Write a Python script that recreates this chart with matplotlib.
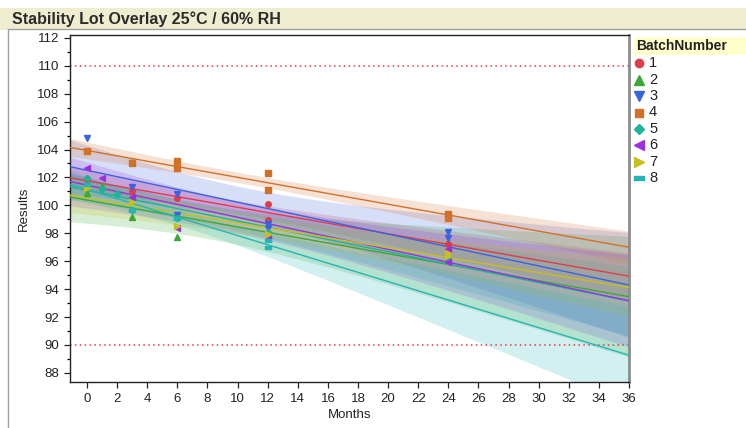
"""Stability lot overlay at 25C / 60% RH: per-batch linear fits with 95% confidence bands."""

import matplotlib
matplotlib.use("Agg")
import matplotlib.pyplot as plt
import numpy as np
from matplotlib.lines import Line2D
from matplotlib.patches import Rectangle

plt.rcParams["font.family"] = ["Liberation Sans", "DejaVu Sans"]

# ---- data (months, result) ----
batch_ids = ["1", "2", "3", "4", "5", "6", "7", "8"]

b1_months = [0, 3, 6, 12, 12, 24]
b1_values = [101.9, 101.06, 100.55, 100.08, 98.95, 97.21]

b2_months = [0, 1, 3, 6, 12, 24]
b2_values = [100.91, 101.39, 99.15, 97.71, 98.1, 96.16]

b3_months = [0, 3, 3, 6, 6, 12, 12, 24, 24]
b3_values = [104.8, 103.0, 101.3, 100.8, 99.3, 98.7, 98.4, 98.07, 97.68]

b4_months = [0, 3, 6, 6, 12, 12, 24, 24]
b4_values = [103.9, 103.0, 103.2, 102.7, 102.3, 101.1, 99.4, 99.1]

b5_months = [0, 1, 2, 3, 6, 12, 24]
b5_values = [101.99, 101.2, 100.8, 99.67, 99.07, 98.12, 96.2]

b6_months = [0, 1, 3, 6, 12, 24, 24]
b6_values = [102.66, 101.99, 100.58, 98.4, 97.6, 96.85, 95.96]

b7_months = [0, 3, 6, 12, 24, 24]
b7_values = [101.27, 100.22, 98.52, 97.95, 96.57, 96.37]

b8_months = [0, 3, 6, 12, 12]
b8_values = [101.5, 99.7, 99.1, 97.5, 97.0]

spec_limits = [90, 110]

months_data = [b1_months, b2_months, b3_months, b4_months,
               b5_months, b6_months, b7_months, b8_months]
values_data = [b1_values, b2_values, b3_values, b4_values,
               b5_values, b6_values, b7_values, b8_values]

COLORS = ["#DE3C4B", "#3AAA35", "#3B63E0", "#D27028",
          "#1FB39A", "#9B30E0", "#C8BF1E", "#25B5B5"]
RECT = [(-1.0, -0.45), (1.0, -0.45), (1.0, 0.45), (-1.0, 0.45), (-1.0, -0.45)]
MARKERS = ["o", "^", "v", "s", "D", "<", ">", RECT]
MSIZES = [4.0, 4.4, 4.4, 3.8, 3.3, 4.4, 4.4, 4.8]

# two-sided 95% t quantiles
T975 = {1: 12.706, 2: 4.303, 3: 3.182, 4: 2.776, 5: 2.571, 6: 2.447,
        7: 2.365, 8: 2.306, 9: 2.262, 10: 2.228}

XMIN, XMAX = -1.13, 36.0
YMIN, YMAX = 87.35, 112.2


def fit_band(x, y, grid):
    x = np.asarray(x, float)
    y = np.asarray(y, float)
    n = len(x)
    xm = x.mean()
    sxx = ((x - xm) ** 2).sum()
    slope = ((x - xm) * (y - y.mean())).sum() / sxx
    icpt = y.mean() - slope * xm
    resid = y - (icpt + slope * x)
    s = np.sqrt((resid ** 2).sum() / (n - 2))
    pred = icpt + slope * grid
    half = T975[n - 2] * s * np.sqrt(1 / n + (grid - xm) ** 2 / sxx)
    return pred, pred - half, pred + half


W, H = 746, 428
fig = plt.figure(figsize=(W / 100, H / 100), dpi=100)

# title bar and content frame
fig.patches.append(Rectangle((0, 1 - 29.5 / H), 1, 21.5 / H, transform=fig.transFigure,
                             facecolor="#EEEDCF", edgecolor="none", zorder=0))
fig.patches.append(Rectangle((7.5 / W, -0.01), 1.0, 1 - 29.5 / H + 0.01, transform=fig.transFigure,
                             facecolor="none", edgecolor="#A0A0A0", lw=1.0, zorder=0))
fig.text(12 / W, 1 - 19 / H, "Stability Lot Overlay 25\u00b0C / 60% RH",
         fontsize=11.5, fontweight="bold", color="#2B2B2B", va="center", ha="left")

ax = fig.add_axes([70 / W, 1 - 382 / H, 559 / W, 347 / H])

grid = np.linspace(XMIN, XMAX, 300)
for i in range(len(batch_ids)):
    pred, lo, hi = fit_band(months_data[i], values_data[i], grid)
    ax.fill_between(grid, lo, hi, color=COLORS[i], alpha=0.2, lw=0, zorder=1)
for i in range(len(batch_ids)):
    pred, lo, hi = fit_band(months_data[i], values_data[i], grid)
    ax.plot(grid, pred, color=COLORS[i], lw=1.0, zorder=3)
for i in range(len(batch_ids)):
    ax.plot(months_data[i], values_data[i], ls="none", marker=MARKERS[i],
            ms=MSIZES[i], color=COLORS[i], mec=COLORS[i], zorder=4)

for lim in spec_limits:
    ax.axhline(lim, color="#E8393B", lw=1.1, ls=(0, (1, 2.2)), zorder=2)

ax.set_xlim(XMIN, XMAX)
ax.set_ylim(YMIN, YMAX)
ax.set_xticks(np.arange(0, 37, 2))
ax.set_yticks(np.arange(88, 113, 2))
ax.set_yticks(np.arange(89, 112, 2), minor=True)
ax.tick_params(axis="both", direction="out", length=4, width=0.9, colors="#222222",
               labelsize=9.5, labelcolor="#222222")
ax.tick_params(axis="y", which="minor", length=2.5, width=0.9)
ax.tick_params(axis="x", pad=4)
for side in ("left", "top", "bottom"):
    ax.spines[side].set_color("#222222")
    ax.spines[side].set_linewidth(1.0)
ax.spines["right"].set_color("#8C8C8C")
ax.spines["right"].set_linewidth(2.0)

ax.set_xlabel("Months", fontsize=9.5, color="#222222")
ax.set_ylabel("Results", fontsize=9.5, color="#222222")
ax.xaxis.set_label_coords(0.5, -0.078)
ax.yaxis.set_label_coords(-0.072, 0.5)

# legend drawn by hand
fig.patches.append(Rectangle((634 / W, 1 - 55 / H), 112 / W, 18 / H, transform=fig.transFigure,
                             facecolor="#FFFFCC", edgecolor="none", zorder=0))
fig.text(636 / W, 1 - 46 / H, "BatchNumber", fontsize=10, fontweight="bold",
         color="#222222", va="center", ha="left")
for i, name in enumerate(batch_ids):
    yc = 1 - (63.3 + 16.4 * i) / H
    fig.add_artist(Line2D([638.5 / W], [yc], transform=fig.transFigure, ls="none",
                          marker=MARKERS[i], ms=MSIZES[i] * 1.5, color=COLORS[i]))
    fig.text(649 / W, yc, name, fontsize=10.5, color="#222222", va="center", ha="left")

fig.savefig("out.png", dpi=100)
